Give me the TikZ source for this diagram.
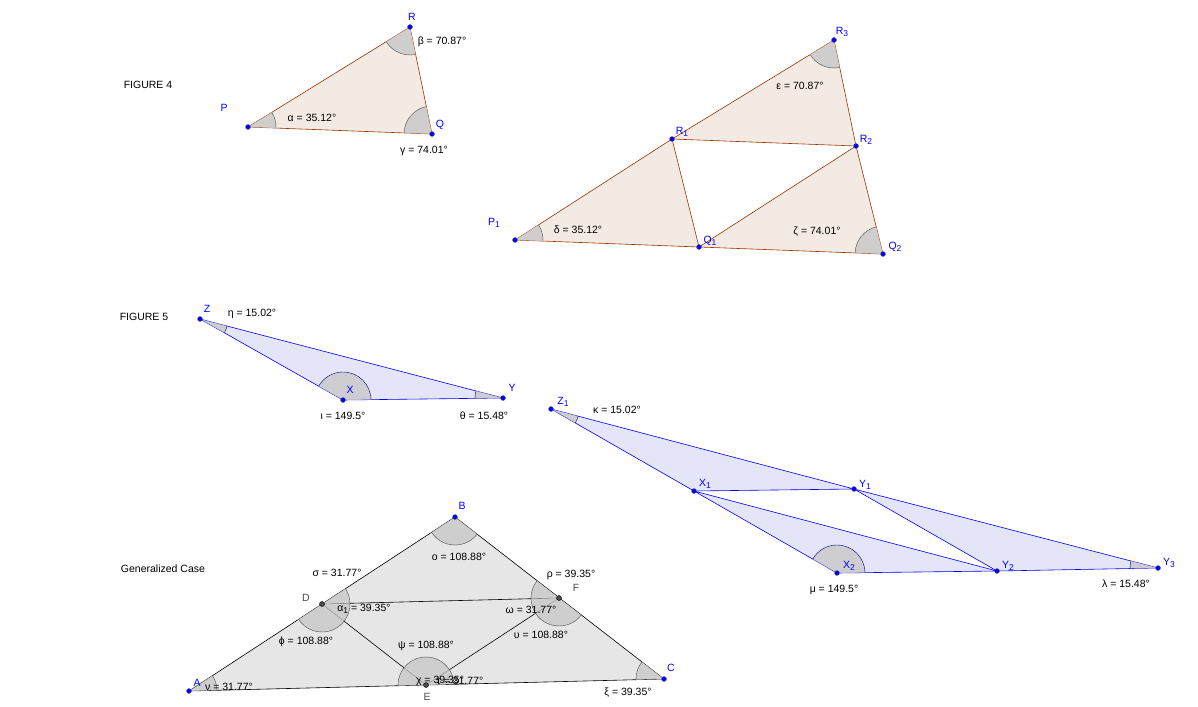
\documentclass[tikz,border=0pt]{standalone}
\usepackage{fontspec}
\setmainfont{Liberation Sans}
\usetikzlibrary{angles}
\definecolor{cbrown}{RGB}{153,51,0}
\definecolor{cpeach}{RGB}{244,234,228}
\definecolor{cviolet}{RGB}{229,229,250}
\definecolor{cgray}{RGB}{230,230,230}
\definecolor{cwedge}{RGB}{200,200,200}
\definecolor{cpt}{RGB}{0,0,255}
\newcommand{\subidx}[1]{\raisebox{-0.45ex}{\fontsize{8.5}{9}\selectfont #1}}
\begin{document}
\begin{tikzpicture}[x=1pt, y=-1pt,
    tri/.style={line width=0.6pt},
    wedge/.style={draw=black!70, fill=cwedge, fill opacity=0.8, angle radius=28pt},
    lbl/.style={font=\fontsize{10.5}{12}\selectfont, inner sep=0pt},
    vlbl/.style={lbl, text=cpt},
    glbl/.style={lbl, text=black!70},
    dot/.style={circle, fill=cpt, draw=black!60, inner sep=0pt, minimum size=5pt},
    gdot/.style={circle, fill=black!70, draw=black, inner sep=0pt, minimum size=5pt}
  ]
  \useasboundingbox (0,0) rectangle (1198,706);

  % figure 4
  \coordinate (P) at (248,127); \coordinate (Q) at (432,134); \coordinate (R) at (410,27);
  \coordinate (P1) at (515,240); \coordinate (Q1) at (699,247); \coordinate (Q2) at (883,254);
  \coordinate (R1) at (672,139); \coordinate (R2) at (856,146); \coordinate (R3) at (834,40);
  \filldraw[tri, draw=cbrown, fill=cpeach] (P) -- (Q) -- (R) -- cycle;
  \filldraw[tri, draw=cbrown, fill=cpeach] (P1) -- (Q1) -- (R1) -- cycle;
  \filldraw[tri, draw=cbrown, fill=cpeach] (Q1) -- (Q2) -- (R2) -- cycle;
  \filldraw[tri, draw=cbrown, fill=cpeach] (R1) -- (R2) -- (R3) -- cycle;
  \pic[wedge] {angle=Q--P--R};
  \pic[wedge] {angle=P--R--Q};
  \pic[wedge] {angle=R--Q--P};
  \pic[wedge] {angle=Q1--P1--R1};
  \pic[wedge] {angle=R1--R3--R2};
  \pic[wedge] {angle=R2--Q2--Q1};
  \foreach \p in {P,Q,R,P1,Q1,Q2,R1,R2,R3} \node[dot] at (\p) {};

  \node[lbl] (fig4) at (148,85) {FIGURE 4};
  \node[vlbl] (lP) at (224,108) {P};
  \node[vlbl] (lQ) at (440,125) {Q};
  \node[vlbl] (lR) at (412,17) {R};
  \node[lbl] (alpha) at (312,118) {α = 35.12°};
  \node[lbl] (beta) at (442,42) {β = 70.87°};
  \node[lbl] (gamma) at (424,151) {γ = 74.01°};
  \node[vlbl] (lP1) at (494,223) {P\subidx{1}};
  \node[vlbl] (lQ1) at (710,241) {Q\subidx{1}};
  \node[vlbl] (lQ2) at (895,247) {Q\subidx{2}};
  \node[vlbl] (lR1) at (682,132) {R\subidx{1}};
  \node[vlbl] (lR2) at (866,140) {R\subidx{2}};
  \node[vlbl] (lR3) at (842,32) {R\subidx{3}};
  \node[lbl] (delta) at (578,230) {δ = 35.12°};
  \node[lbl] (eps) at (800,86) {ε = 70.87°};
  \node[lbl] (zeta) at (817,232) {ζ = 74.01°};

  % figure 5
  \coordinate (Z) at (200,319); \coordinate (X) at (343,400); \coordinate (Y) at (503,398);
  \coordinate (Z1) at (551,409); \coordinate (X1) at (694,491); \coordinate (Y1) at (854,489);
  \coordinate (X2) at (837,573); \coordinate (Y2) at (997,571); \coordinate (Y3) at (1158,568);
  \filldraw[tri, draw=cpt, fill=cviolet] (Z) -- (X) -- (Y) -- cycle;
  \filldraw[tri, draw=cpt, fill=cviolet] (Z1) -- (X1) -- (Y1) -- cycle;
  \filldraw[tri, draw=cpt, fill=cviolet] (X1) -- (X2) -- (Y2) -- cycle;
  \filldraw[tri, draw=cpt, fill=cviolet] (Y1) -- (Y2) -- (Y3) -- cycle;
  \pic[wedge, draw=cpt!50!black] {angle=X--Z--Y};
  \pic[wedge, draw=cpt!50!black] {angle=Y--X--Z};
  \pic[wedge, draw=cpt!50!black] {angle=Z--Y--X};
  \pic[wedge, draw=cpt!50!black] {angle=X1--Z1--Y1};
  \pic[wedge, draw=cpt!50!black] {angle=Y2--X2--X1};
  \pic[wedge, draw=cpt!50!black] {angle=Y1--Y3--Y2};
  \foreach \p in {Z,X,Y,Z1,X1,Y1,X2,Y2,Y3} \node[dot] at (\p) {};

  \node[lbl] (fig5) at (144,317) {FIGURE 5};
  \node[vlbl] (lZ) at (207,309) {Z};
  \node[vlbl] (lX) at (350,390) {X};
  \node[vlbl] (lY) at (512,388) {Y};
  \node[lbl] (eta) at (252,314) {η = 15.02°};
  \node[lbl] (iota) at (343,416) {ι = 149.5°};
  \node[lbl] (theta) at (484,416) {θ = 15.48°};
  \node[vlbl] (lZ1) at (563,402) {Z\subidx{1}};
  \node[vlbl] (lX1) at (705,484) {X\subidx{1}};
  \node[vlbl] (lY1) at (865,485) {Y\subidx{1}};
  \node[vlbl] (lX2) at (849,566) {X\subidx{2}};
  \node[vlbl] (lY2) at (1008,566) {Y\subidx{2}};
  \node[vlbl] (lY3) at (1169,563) {Y\subidx{3}};
  \node[lbl] (kappa) at (617,410) {κ = 15.02°};
  \node[lbl] (mu) at (834,590) {μ = 149.5°};
  \node[lbl] (lambda) at (1126,584) {λ = 15.48°};

  % generalized case
  \coordinate (A) at (189,691); \coordinate (B) at (455,517); \coordinate (C) at (664,679);
  \coordinate (D) at (322,604); \coordinate (E) at (426,685); \coordinate (F) at (559,598);
  \filldraw[tri, draw=black, fill=cgray] (A) -- (B) -- (C) -- cycle;
  \draw[tri] (D) -- (F) -- (E) -- cycle;
  \pic[wedge] {angle=C--A--B};
  \pic[wedge] {angle=A--B--C};
  \pic[wedge] {angle=B--C--A};
  \pic[wedge] {angle=F--D--B};
  \pic[wedge] {angle=E--D--F};
  \pic[wedge] {angle=A--D--E};
  \pic[wedge] {angle=D--F--E};
  \pic[wedge] {angle=B--F--D};
  \pic[wedge] {angle=E--F--C};
  \pic[wedge] {angle=F--E--D};
  \pic[wedge] {angle=D--E--A};
  \pic[wedge] {angle=C--E--F};
  \foreach \p in {A,B,C} \node[dot] at (\p) {};
  \foreach \p in {D,E,F} \node[gdot] at (\p) {};

  \node[lbl] (gen) at (163,569) {Generalized Case};
  \node[vlbl] (lA) at (197,683) {A};
  \node[vlbl] (lB) at (462,506) {B};
  \node[vlbl] (lC) at (671,668) {C};
  \node[glbl] (lD) at (306,598) {D};
  \node[glbl] (lE) at (427,697) {E};
  \node[glbl] (lF) at (576,588) {F};
  \node[lbl] (sigma) at (337,573) {σ = 31.77°};
  \node[lbl] (omicron) at (459,557) {ο = 108.88°};
  \node[lbl] (rho) at (571,575) {ρ = 39.35°};
  \node[lbl] (alpha1) at (364,609) {α\subidx{1} = 39.35°};
  \node[lbl] (omega) at (531,610) {ω = 31.77°};
  \node[lbl] (phi) at (306,642) {ϕ = 108.88°};
  \node[lbl] (upsilon) at (541,635) {υ = 108.88°};
  \node[lbl] (psi) at (426,646) {ψ = 108.88°};
  \node[lbl] (chi) at (440,681) {χ = 39.35°};
  \node[lbl] (tau) at (460,681) {τ = 31.77°};
  \node[lbl] (nu) at (229,687) {ν = 31.77°};
  \node[lbl] (xi) at (628,693) {ξ = 39.35°};
\end{tikzpicture}
\end{document}
